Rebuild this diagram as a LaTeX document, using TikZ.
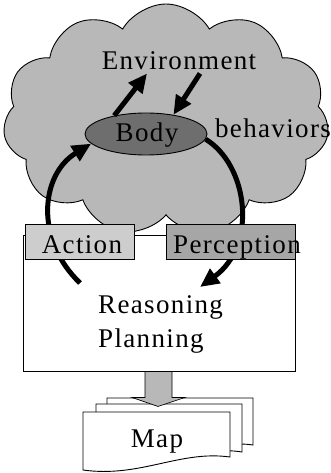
\documentclass[tikz,border=0pt]{standalone}
\usepackage{fontspec}
\setmainfont{Liberation Serif}[LetterSpace=5]
\usetikzlibrary{shapes.symbols,shapes.geometric,arrows.meta,calc}
\definecolor{cloudgray}{HTML}{B8B8B8}
\definecolor{bodygray}{HTML}{6E6E6E}
\definecolor{actgray}{HTML}{CDCDCD}
\definecolor{pergray}{HTML}{A6A6A6}
\tikzset{
  outline/.style={draw=black, line width=0.9pt},
  bigarrow/.style={line width=5pt, -{Triangle[length=19pt,width=17pt]}},
  lbl/.style={anchor=base, inner sep=0pt},
}
\begin{document}
\begin{tikzpicture}[x=1pt,y=-1pt, font=\fontsize{27}{30}\selectfont]
\useasboundingbox (0,0) rectangle (331,473);
% cloud
\node[cloud, cloud puffs=11, cloud puff arc=120, cloud ignores aspect,
      minimum width=326pt, minimum height=232pt, outline, fill=cloudgray] (cloud) at (166,120) {};
% reasoning box
\node[outline, fill=white, minimum width=272pt, minimum height=136pt] (reason) at (159,303) {};
\node[anchor=base west, inner sep=0pt] (rtext) at (98,313) {Reasoning};
\node[anchor=base west, inner sep=0pt] (ptext) at (98,347) {Planning};
% body
\node[ellipse, outline, fill=bodygray, minimum width=122pt, minimum height=42pt, inner sep=0pt] (body) at (146,134) {};
\node[lbl] (bodytext) at (147,142) {Body};
% environment and behaviors
\node[lbl] (env) at (179,70) {Environment};
\node[lbl] (beh) at (273,138) {behaviors};
% arrows body <-> environment
\draw[bigarrow] (body.150) -- ([xshift=-32pt,yshift=-3pt]env.south);
\draw[bigarrow] ([xshift=21pt,yshift=-3pt]env.south) -- (body.35);
% action / perception arrows
\coordinate (astart) at (80,283);
\coordinate (pend) at (200,287);
\draw[bigarrow] (astart) .. controls (35,240) and (40,175) .. (body.190);
\draw[bigarrow] (body.355) .. controls (248,165) and (258,245) .. (pend);
% label boxes
\node[outline, fill=actgray, minimum width=109pt, minimum height=35pt] (action) at (79.5,241.5) {};
\node[outline, fill=pergray, minimum width=129pt, minimum height=35pt] (percep) at (230.5,241.5) {};
\node[lbl] (actiontext) at (82,253) {Action};
\node[lbl] (perceptext) at (237,253) {Perception};
% map documents
\draw[outline, fill=white] (107,398) -- (253,398) -- (253,445) .. controls (220,440) and (180,455) .. (107,452) -- cycle;
\draw[outline, fill=white] (96,404) -- (242,404) -- (242,452) .. controls (205,446) and (170,462) .. (96,460) -- cycle;
\draw[outline, fill=white] (83,412) -- (230,412) -- (230,457) .. controls (180,450) and (140,478) .. (83,470) -- cycle;
\node[lbl] (map) at (157,447) {Map};
% block arrow
\draw[outline, line width=0.7pt, fill=cloudgray] ($(reason.south)+(-14,0)$) -- ($(reason.south)+(13,0)$) -- ($(reason.south)+(13,26)$)
  -- ($(reason.south)+(26,26)$) -- ($(reason.south)+(-1,35)$) -- ($(reason.south)+(-27,26)$) -- ($(reason.south)+(-14,26)$) -- cycle;
\end{tikzpicture}
\end{document}
